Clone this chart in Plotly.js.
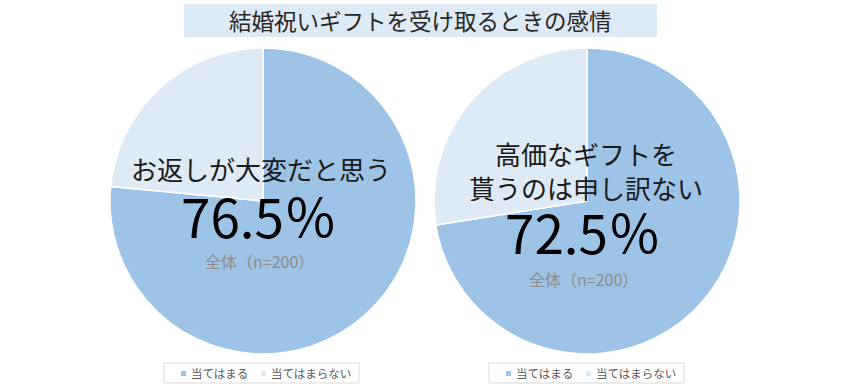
<!DOCTYPE html>
<html><head><meta charset="utf-8">
<script src="https://cdn.plot.ly/plotly-3.0.1.min.js"></script>
<style>html,body{margin:0;padding:0;background:#fff}#c{width:850px;height:389px}</style>
</head><body><div id="c"></div>
<script>
const chartTitle = "結婚祝いギフトを受け取るときの感情";
const categories = ["当てはまる", "当てはまらない"];
const leftValues = [76.5, 23.5];
const rightValues = [72.5, 27.5];
const leftQuestion = ["お返しが大変だと思う"];
const rightQuestion = ["高価なギフトを", "貰うのは申し訳ない"];
const sampleNote = "全体（n=200）";
const colors = ["#9DC3E6", "#DEEBF7"];

const W = 850, H = 389;
const px = x => x / W;
const py = y => 1 - y / H;
const FONT = "Noto Sans CJK JP, sans-serif";

function pieTrace(values, x0, x1) {
  return {
    type: "pie", values: values, labels: categories, sort: false,
    direction: "clockwise", rotation: 0, textinfo: "none", hoverinfo: "label+percent",
    marker: {colors: colors, line: {color: "#ffffff", width: 1.5}},
    domain: {x: [px(x0), px(x1)], y: [py(354), py(48)]},
    showlegend: false
  };
}

const data = [pieTrace(leftValues, 110, 416), pieTrace(rightValues, 434, 740)];

const annotations = [];
const shapes = [];
function ann(text, x, y, size, color, extra) {
  annotations.push(Object.assign({text: text, x: px(x), y: py(y), xref: "paper", yref: "paper",
    showarrow: false, xanchor: "center", yanchor: "middle",
    font: {family: FONT, size: size, color: color}}, extra || {}));
}
// title box
shapes.push({type: "rect", xref: "paper", yref: "paper", x0: px(184), x1: px(657), y0: py(37), y1: py(4),
  fillcolor: "#DEEBF7", line: {width: 0}, layer: "below"});
ann(chartTitle, 420, 20, 22.5, "#262626");

// left pie labels
ann(leftQuestion[0], 261, 168, 26, "#1a1a1a", {height: 28});
ann(leftValues[0].toFixed(1) + "％", 259, 215, 53, "#000000", {height: 52});
ann(sampleNote, 259, 261, 16, "#8c8c8c", {height: 18});
// right pie labels
ann(rightQuestion[0], 586, 153, 26, "#1a1a1a", {height: 28});
ann(rightQuestion[1], 586, 187, 26, "#1a1a1a", {height: 28});
ann(rightValues[0].toFixed(1) + "％", 583, 231, 53, "#000000", {height: 52});
ann(sampleNote, 583, 279, 16, "#8c8c8c", {height: 18});

// legends (built from categories/colors)
[0, 325].forEach(off => {
  shapes.push({type: "rect", xref: "paper", yref: "paper", x0: px(164 + off), x1: px(359 + off),
    y0: py(383), y1: py(363), line: {color: "#d9d9d9", width: 1}, fillcolor: "rgba(0,0,0,0)"});
  const sx = [181, 261];
  categories.forEach((c, i) => {
    shapes.push({type: "rect", xref: "paper", yref: "paper", x0: px(sx[i] + off), x1: px(sx[i] + 5 + off),
      y0: py(376), y1: py(371), line: {width: 0}, fillcolor: colors[i]});
    ann(c, sx[i] + 8 + off, 373, 11.5, "#595959", {xanchor: "left"});
  });
});

const layout = {
  width: W, height: H, margin: {l: 0, r: 0, t: 0, b: 0},
  paper_bgcolor: "#ffffff", plot_bgcolor: "#ffffff",
  showlegend: false, annotations: annotations, shapes: shapes,
  font: {family: FONT}
};
Plotly.newPlot("c", data, layout, {displayModeBar: false, staticPlot: true});
</script></body></html>
